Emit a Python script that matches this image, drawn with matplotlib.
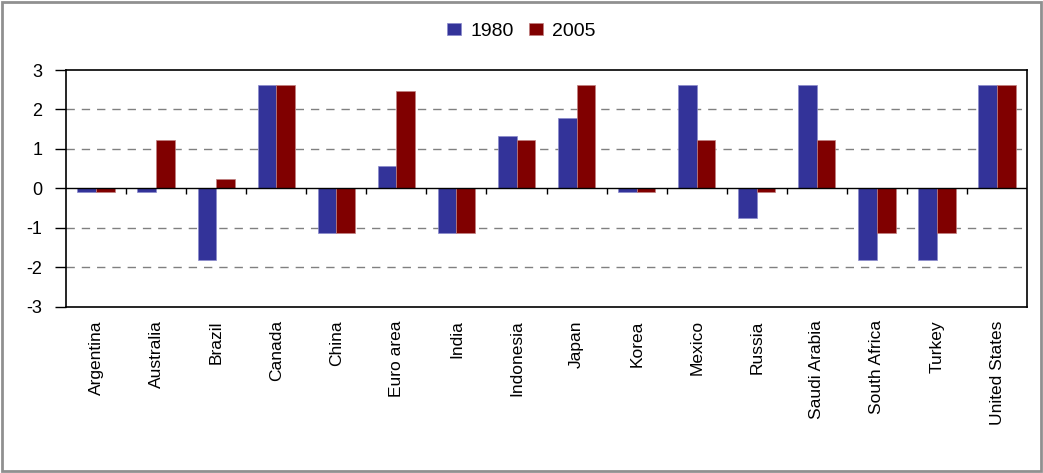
#! /usr/bin/env python3

import numpy as np
import matplotlib
matplotlib.use("Agg")
import matplotlib.pyplot as plt
from matplotlib.patches import Rectangle

countries = ["Argentina", "Australia", "Brazil", "Canada", "China", "Euro area",
             "India", "Indonesia", "Japan", "Korea", "Mexico", "Russia",
             "Saudi Arabia", "South Africa", "Turkey", "United States"]
vals_1980 = [-0.1, -0.1, -1.8, 2.62, -1.12, 0.58, -1.12, 1.33, 1.79, -0.1,
             2.62, -0.75, 2.62, -1.8, -1.8, 2.62]
vals_2005 = [-0.1, 1.22, 0.23, 2.62, -1.12, 2.47, -1.12, 1.22, 2.62, -0.1,
             1.22, -0.1, 1.22, -1.12, -1.12, 2.62]
series = ["1980", "2005"]
yticks = [-3, -2, -1, 0, 1, 2, 3]

if __name__ == "__main__":
    plt.rcParams['font.family'] = ['Liberation Sans', 'DejaVu Sans']

    fig = plt.figure(figsize=(10.43, 4.73), dpi=100)
    ax = fig.add_axes([0.0633, 0.351, 0.9214, 0.501])

    x = np.arange(len(countries))
    w = 0.31
    ax.bar(x - w/2, vals_1980, w, color="#333399", edgecolor="#8a8acc",
           linewidth=0.5, label=series[0], zorder=3)
    ax.bar(x + w/2, vals_2005, w, color="#800000", edgecolor="#c08080",
           linewidth=0.5, label=series[1], zorder=3)

    # dashed gridlines and the zero line
    for yv in [-2, -1, 1, 2]:
        ax.axhline(yv, color="#808080", linestyle=(0, (6, 5)), linewidth=1, zorder=1)
    ax.axhline(0, color="black", linewidth=1, zorder=4)
    # category boundary ticks on the zero line
    ax.vlines(np.arange(0.5, len(countries) - 1), -0.15, 0, color="black",
              linewidth=1, zorder=4)

    ax.set_xlim(-0.5, len(countries) - 0.5)
    ax.set_ylim(-3, 3)
    ax.set_yticks(yticks)
    ax.set_yticklabels([str(v) for v in yticks], fontsize=13)
    ax.set_xticks(x)
    ax.set_xticklabels(countries, rotation=90, fontsize=12.5, va="top")
    ax.tick_params(axis="x", length=0, pad=9.5)
    ax.tick_params(axis="y", length=8, width=1, pad=9)
    for sp in ax.spines.values():
        sp.set_linewidth(1.2)

    fig.legend(loc="center", bbox_to_anchor=(0.5, 0.934), ncol=2,
               frameon=False, fontsize=14, handlelength=0.72, handleheight=0.62,
               handletextpad=0.46, columnspacing=0.82)

    fig.patches.append(Rectangle((0.002, 0.004), 0.996, 0.992, transform=fig.transFigure,
                                 fill=False, edgecolor="#909090", linewidth=2))

    fig.savefig("out.png", dpi=100)
